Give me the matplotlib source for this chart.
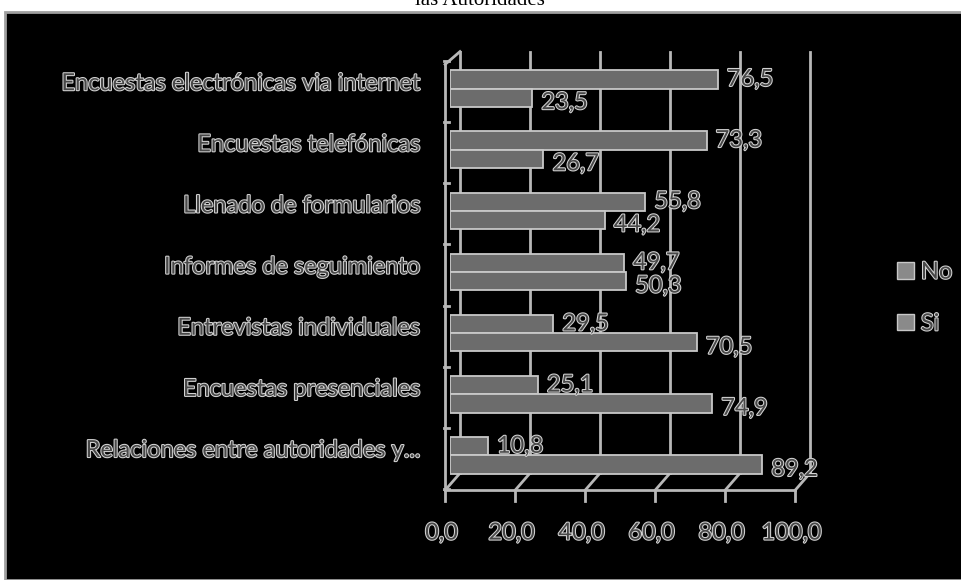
import numpy as np
import matplotlib
matplotlib.use("Agg")
import matplotlib.pyplot as plt
import matplotlib.patheffects as pe
from matplotlib.patches import Rectangle, Patch

# data (percent)
categories = ["Encuestas electrónicas via internet", "Encuestas telefónicas",
              "Llenado de formularios", "Informes de seguimiento",
              "Entrevistas individuales", "Encuestas presenciales",
              "Relaciones entre autoridades y..."]
no_vals = [76.5, 73.3, 55.8, 49.7, 29.5, 25.1, 10.8]
si_vals = [23.5, 26.7, 44.2, 50.3, 70.5, 74.9, 89.2]
xticks = [0, 20, 40, 60, 80, 100]
xtick_labels = ["0,0", "20,0", "40,0", "60,0", "80,0", "100,0"]

W, H = 962, 580
fig = plt.figure(figsize=(W / 100, H / 100), dpi=100)
fig.patch.set_facecolor("white")

# black chart box with gray border
fig.patches.append(Rectangle((5 / W, 0), 1.0, 1 - 12 / H, transform=fig.transFigure,
                             facecolor="black", edgecolor="#a0a0a0", linewidth=2, zorder=-5))
# title is cut off by the top of the image
fig.text(480 / W, 1 - 5 / H, "las Autoridades", ha="center", va="baseline",
         fontsize=15, family="Liberation Serif", color="black")

fnt = "Lato"
fs = 17
txt_col = "#484848"
fx = [pe.withStroke(linewidth=1.5, foreground="#d4d4d4")]

# axes placed by pixels: left 450, right 800, top 58, bottom 486
ax = fig.add_axes([450 / W, 1 - 486 / H, 350 / W, 428 / H])
ax.set_zorder(2)
ax.set_facecolor("none")
ax.set_xlim(0, 100)
ax.set_ylim(len(categories) - 0.5, -0.5)
for s in ax.spines.values():
    s.set_visible(False)
ax.set_xticks([])
ax.set_yticks([])

grid_col = "#b8b8b8"
off = 10 / 3.5     # depth offset of the back wall
front = -1.4
xt = ax.get_xaxis_transform()
for t in xticks:
    ax.plot([t + off, t + off], [0.03, 1.015], color=grid_col, lw=2, transform=xt, clip_on=False, zorder=1)
    ax.plot([t + off, t + front], [0.03, -0.01], color=grid_col, lw=2, transform=xt, clip_on=False, zorder=1)
    ax.plot([t + front, t + front], [-0.01, -0.035], color=grid_col, lw=2, transform=xt, clip_on=False, zorder=1)
ax.plot([front, 100 + front], [-0.01, -0.01], color=grid_col, lw=2, transform=xt, clip_on=False)
# left wall
ax.plot([front, front], [-0.01, 0.985], color=grid_col, lw=2, transform=xt, clip_on=False)
ax.plot([front, off], [0.985, 1.015], color=grid_col, lw=2, transform=xt, clip_on=False)
yt = ax.get_yaxis_transform()
for b in np.arange(-0.5, len(categories) + 0.5, 1.0):
    yb = b + 0.05
    ax.plot([-0.016, -0.004], [yb, yb], color=grid_col, lw=2, transform=yt, clip_on=False)

y = np.arange(len(categories))
h = 0.3
bar_kw = dict(color="#6c6c6c", edgecolor="#c8c8c8", linewidth=1.3, zorder=3)
ax.barh(y - h / 2, no_vals, height=h, label="No", **bar_kw)
ax.barh(y + h / 2, si_vals, height=h, label="Si", **bar_kw)

for yi, v in zip(y - h / 2, no_vals):
    ax.text(v + 2.6, yi, f"{v:.1f}".replace(".", ","), va="center", ha="left", fontsize=fs,
            family=fnt, color=txt_col, path_effects=fx, zorder=5, clip_on=False)
for yi, v in zip(y + h / 2, si_vals):
    ax.text(v + 2.6, yi + 0.08, f"{v:.1f}".replace(".", ","), va="center", ha="left", fontsize=fs,
            family=fnt, color=txt_col, path_effects=fx, zorder=5, clip_on=False)

for yi, c in zip(y, categories):
    ax.text(-0.085, yi - 0.08, c, transform=yt, ha="right", va="center", fontsize=fs,
            family=fnt, color=txt_col, path_effects=fx, clip_on=False)

for t, lab in zip(xticks, xtick_labels):
    ax.text(t + front - 1, -0.11, lab, transform=xt, ha="center", va="center", fontsize=fs,
            family=fnt, color=txt_col, path_effects=fx, clip_on=False)

handles = [Patch(facecolor="#8a8a8a", edgecolor="#c8c8c8", label="No"),
           Patch(facecolor="#8a8a8a", edgecolor="#c8c8c8", label="Si")]
leg = fig.legend(handles=handles, loc="center left", bbox_to_anchor=(876 / W, 1 - 298 / H),
                 frameon=False, handlelength=0.7, handleheight=0.7, handletextpad=0.3,
                 labelspacing=1.3, prop={"family": fnt, "size": fs})
for tx in leg.get_texts():
    tx.set_color(txt_col)
    tx.set_path_effects(fx)

fig.savefig("out.png", dpi=100, facecolor=fig.get_facecolor())
